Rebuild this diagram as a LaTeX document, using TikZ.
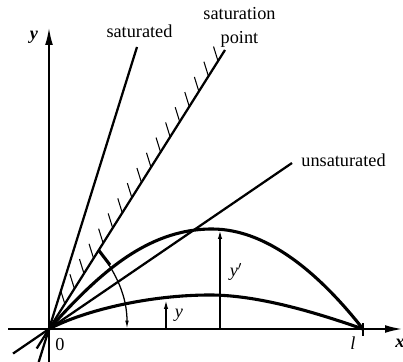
\documentclass[tikz,border=0pt]{standalone}
\usepackage{fontspec}
\setmainfont{Liberation Serif}
\usetikzlibrary{arrows.meta,calc}
\tikzset{
  axis/.style={line width=1.1pt,-{Latex[length=12pt,width=5.5pt]}},
  ray/.style={line width=1.6pt},
  curve/.style={line width=2.2pt},
  hatch/.style={line width=0.75pt},
  marker/.style={line width=1.2pt,-{Latex[length=7pt,width=3pt]}},
  arcline/.style={line width=0.9pt,-{Latex[length=6pt,width=2.6pt]}},
  lbl/.style={inner sep=0pt,font=\fontsize{13}{17}\selectfont},
}
\begin{document}
\begin{tikzpicture}[x=0.025cm,y=0.025cm]
\useasboundingbox (0,0) rectangle (403,362);
% key points
\coordinate (O) at (49,33);
\coordinate (xs) at (8,33);
\coordinate (xe) at (402,33);
\coordinate (ys) at (49,0);
\coordinate (ye) at (49,334);
\coordinate (satE) at (137,315);
\coordinate (satB) at ($(O)!-0.117!(satE)$);
\coordinate (spE) at (225,312);
\coordinate (spB) at ($(O)!-0.07!(spE)$);
\coordinate (unE) at (292,199);
\coordinate (unB) at ($(O)!-0.148!(unE)$);
\coordinate (L) at (363,33);
\coordinate (Lt) at (363,39);
\coordinate (Lb) at (363,26);
\coordinate (pkU) at (212,133);
\coordinate (pkD) at (210,67);
\coordinate (ya) at (166,33);
\coordinate (yb) at (166,63);
\coordinate (ypa) at (220,33);
\coordinate (ypb) at (220,133);
\coordinate (arcS) at (98.5,112);
\coordinate (arcM) at (110,97);
\coordinate (arcE) at (127,33);
% axes
\draw[axis] (xs) -- (xe);
\draw[axis] (ys) -- (ye);
\draw[line width=1.1pt] (Lb) -- (Lt);
% rays
\draw[ray] (satB) -- (satE);
\draw[ray] (spB) -- (spE);
\draw[ray] (unB) -- (unE);
% hatching
\begin{scope}
  \clip (O) -- ($(O)!1.5!(satE)$) -- (403,400) -- (403,33) -- cycle;
  \foreach \i in {0,...,16}
    \draw[hatch] ($(O)!{0.09+0.0544*\i}!(spE)$) -- ++(-4.5,14.5);
\end{scope}
% curves
\draw[curve] (O) .. controls (96,85) and (145,133) .. (pkU)
                 .. controls (272,133) and (326,80) .. (L);
\draw[curve] (O) .. controls (85,52) and (150,67) .. (pkD)
                 .. controls (260,67) and (320,48) .. (L);
% deflection markers
\draw[marker] (ya) -- (yb);
\draw[marker] (ypa) -- (ypb);
% angle arc
\draw[arcline] (arcS) .. controls (117,88) and (127,65) .. (arcE);
\draw[line width=2.2pt] (arcS) -- (arcM);
% labels
\node[lbl] (tsat) at (139.5,331) {saturated};
\node[lbl,align=center] (tsp) at (239.5,335) {saturation\\point};
\node[lbl] (tuns) at (343.5,202) {unsaturated};
\node[lbl] (ylab) at (34,325) {\textbf{\textit{y}}};
\node[lbl] (xlab) at (400,19) {\textbf{\textit{x}}};
\node[lbl] (llab) at (353,19) {\textit{l}};
\node[lbl] (zero) at (60,17) {0};
\node[lbl] (ysm) at (179,47) {\textit{y}};
\node[lbl] (yp) at (236,90) {\textit{y}$^{\prime}$};
\end{tikzpicture}
\end{document}
